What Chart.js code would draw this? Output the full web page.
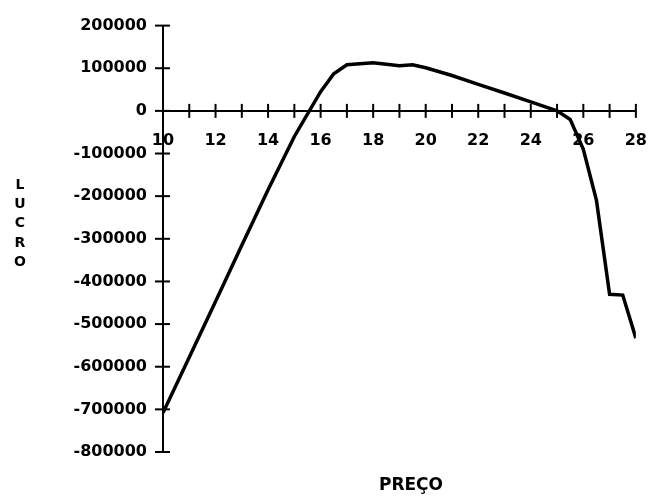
<!DOCTYPE html>
<html lang="pt">
<head>
    <meta charset="UTF-8">
    <title>Lucro x Preço</title>
    <script src="https://cdn.jsdelivr.net/npm/chart.js"></script>
    <style>
        html, body { margin: 0; padding: 0; background: #fff; }
        #wrap { width: 667px; height: 501px; position: relative; }
    </style>
</head>
<body>
    <div id="wrap"><canvas id="lucroChart" width="667" height="501"></canvas></div>

    <script>
        // values
        const precos = [10, 11, 12, 13, 14, 15, 16, 16.5, 17, 18, 19, 19.5, 20, 21, 22, 23, 24, 25, 25.5, 26, 26.5, 27, 27.5, 28];
        const lucros = [-708000, -578000, -447000, -315000, -185000, -60000, 45000, 87000, 108000, 113000, 106000, 108000, 101000, 83000, 62000, 42000, 21000, 0, -20000, -90000, -210000, -430000, -432000, -533000];
        const yTicks = [200000, 100000, 0, -100000, -200000, -300000, -400000, -500000, -600000, -700000, -800000];
        const xLabels = [10, 12, 14, 16, 18, 20, 22, 24, 26, 28];

        const FONT = "'DejaVu Sans', sans-serif";

        // cross-shaped tick marks on both axes, plus the axis titles
        const axisExtras = {
            id: 'axisExtras',
            afterDraw(chart) {
                const ctx = chart.ctx;
                const x = chart.scales.x, y = chart.scales.y;
                const x0 = x.getPixelForValue(10);
                const y0 = y.getPixelForValue(0);
                ctx.save();
                ctx.strokeStyle = '#000';
                ctx.lineWidth = 2;
                x.ticks.forEach(t => {
                    const px = x.getPixelForValue(t.value);
                    ctx.beginPath();
                    ctx.moveTo(px, y0 - 7);
                    ctx.lineTo(px, y0 + 7);
                    ctx.stroke();
                });
                y.ticks.forEach(t => {
                    const py = y.getPixelForValue(t.value);
                    ctx.beginPath();
                    ctx.moveTo(x0 - 8, py);
                    ctx.lineTo(x0 + 7, py);
                    ctx.stroke();
                });
                ctx.fillStyle = '#000';
                ctx.textAlign = 'center';
                ctx.textBaseline = 'middle';
                ctx.font = 'bold 14px ' + FONT;
                'LUCRO'.split('').forEach((ch, i) => ctx.fillText(ch, 20, 185 + i * 19.3));
                ctx.font = 'bold 17px ' + FONT;
                ctx.fillText('PREÇO', 411, 486);
                ctx.restore();
            }
        };

        new Chart(document.getElementById('lucroChart'), {
            type: 'scatter',
            data: {
                datasets: [{
                    label: 'Lucro',
                    data: precos.map((p, i) => ({ x: p, y: lucros[i] })),
                    showLine: true,
                    borderColor: '#000',
                    borderWidth: 3.5,
                    pointRadius: 0,
                    tension: 0
                }]
            },
            options: {
                responsive: false,
                animation: false,
                layout: { padding: { top: 25, right: 12, bottom: 49, left: 0 } },
                plugins: { legend: { display: false }, tooltip: { enabled: false } },
                scales: {
                    x: {
                        type: 'linear',
                        position: { y: 0 },
                        min: 10, max: 28,
                        grid: { display: false, drawTicks: false },
                        border: { display: true, color: '#000', width: 2 },
                        ticks: {
                            stepSize: 1,
                            padding: 20,
                            color: '#000',
                            font: { family: FONT, size: 16, weight: 'bold' },
                            maxRotation: 0,
                            autoSkip: false,
                            callback: v => xLabels.includes(v) ? String(v) : ''
                        }
                    },
                    y: {
                        min: -800000, max: 200000,
                        afterFit: s => { s.width = 163; },
                        grid: { display: false, drawTicks: false },
                        border: { display: true, color: '#000', width: 2 },
                        afterBuildTicks: s => { s.ticks = yTicks.map(v => ({ value: v })); },
                        ticks: {
                            padding: 16,
                            color: '#000',
                            font: { family: FONT, size: 16, weight: 'bold' },
                            callback: v => String(v)
                        }
                    }
                }
            },
            plugins: [axisExtras]
        });
    </script>
</body>
</html>
